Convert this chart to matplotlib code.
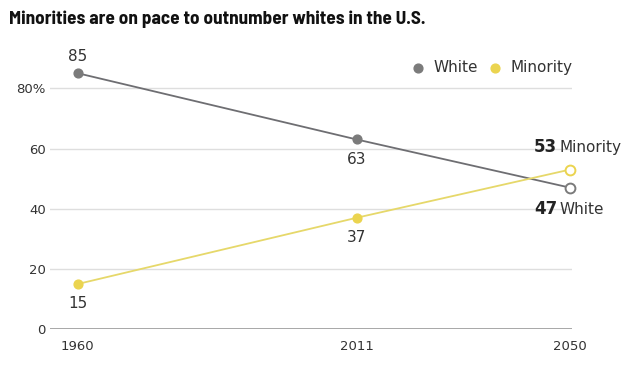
import matplotlib.pyplot as plt

years = [1960, 2011, 2050]
white = [85, 63, 47]
minority = [15, 37, 53]
yticks = [0, 20, 40, 60, 80]
ytick_labels = ["0", "20", "40", "60", "80%"]

gray = "#7b7b7b"
yellow = "#ebd44f"
txt = "#333333"

fig = plt.figure(figsize=(6.4, 3.69), dpi=100)
ax = fig.add_axes([0.078, 0.108, 0.816, 0.718])

for v in yticks[1:]:
    ax.axhline(v, color="#dedede", lw=1, zorder=0)
ax.axhline(0, color="#a0a0a0", lw=1.3, zorder=0)

ax.plot(years, white, color="#6e6e72", lw=1.3, zorder=2, clip_on=False)
ax.plot(years, minority, color="#e6d86a", lw=1.3, zorder=2, clip_on=False)
ax.scatter(years[:2], white[:2], s=40, color=gray, zorder=3, clip_on=False)
ax.scatter(years[:2], minority[:2], s=40, color=yellow, zorder=3, clip_on=False)
ax.scatter(years[2:], white[2:], s=50, facecolor="white", edgecolor=gray, lw=1.4, zorder=4, clip_on=False)
ax.scatter(years[2:], minority[2:], s=50, facecolor="white", edgecolor=yellow, lw=1.4, zorder=4, clip_on=False)

# value labels
ax.annotate(str(white[0]), (years[0], white[0]), xytext=(0, 7), textcoords="offset points",
            ha="center", va="bottom", fontsize=11, color=txt)
ax.annotate(str(white[1]), (years[1], white[1]), xytext=(0, -9), textcoords="offset points",
            ha="center", va="top", fontsize=11, color=txt)
ax.annotate(str(minority[1]), (years[1], minority[1]), xytext=(0, -9), textcoords="offset points",
            ha="center", va="top", fontsize=11, color=txt)
ax.annotate(str(minority[0]), (years[0], minority[0]), xytext=(0, -9), textcoords="offset points",
            ha="center", va="top", fontsize=11, color=txt)

# end labels
ax.annotate(str(minority[2]), (years[2], minority[2]), xytext=(-26, 16), textcoords="offset points",
            ha="left", va="center", fontsize=12, fontweight="bold", color="#222222", annotation_clip=False)
ax.annotate("Minority", (years[2], minority[2]), xytext=(-7.5, 16), textcoords="offset points",
            ha="left", va="center", fontsize=11, color=txt, annotation_clip=False)
ax.annotate(str(white[2]), (years[2], white[2]), xytext=(-26, -15.5), textcoords="offset points",
            ha="left", va="center", fontsize=12, fontweight="bold", color="#222222", annotation_clip=False)
ax.annotate("White", (years[2], white[2]), xytext=(-7.5, -15.5), textcoords="offset points",
            ha="left", va="center", fontsize=11, color=txt, annotation_clip=False)

ax.set_xlim(1954.9, 2050.4)
ax.set_ylim(0, 88)
ax.set_yticks(yticks)
ax.set_yticklabels(ytick_labels)
ax.set_xticks(years)
ax.set_xticklabels([str(y) for y in years])
ax.tick_params(length=0, labelsize=9.5, colors=txt)
ax.tick_params(axis="x", pad=8)
ax.tick_params(axis="y", pad=3)
for s in ax.spines.values():
    s.set_visible(False)

# legend
ax.scatter([], [], s=40, color=gray, label="White")
ax.scatter([], [], s=40, color=yellow, label="Minority")
fig.legend(loc="upper right", bbox_to_anchor=(0.916, 0.875), ncol=2, frameon=False,
           handletextpad=0.0, columnspacing=0.15, fontsize=11, labelcolor=txt)

fig.text(0.014, 0.948, "Minorities are on pace to outnumber whites in the U.S.",
         fontsize=13.8, fontweight="bold", family="Barlow Semi Condensed", va="center", color="#111111")

fig.savefig("out.png", dpi=100)
